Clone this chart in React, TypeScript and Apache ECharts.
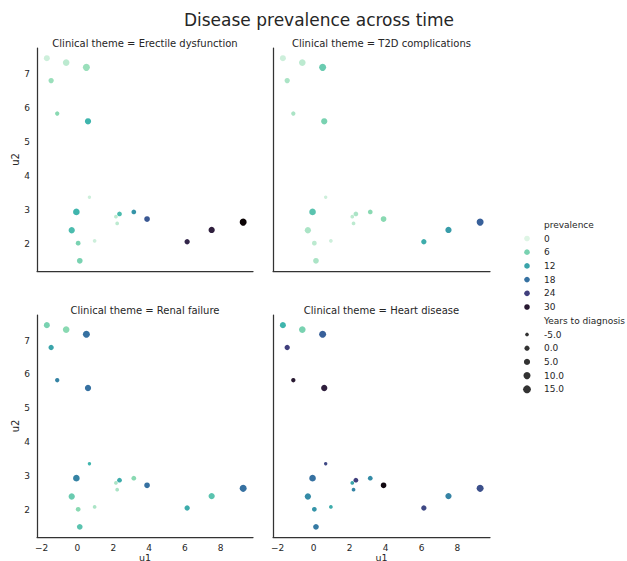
import React, { useEffect, useRef } from "react";
import * as echarts from "echarts";

const themes = ["Erectile dysfunction", "T2D complications", "Renal failure", "Heart disease"];
const u1 = [-1.71, -0.63, 0.5, -1.47, -1.13, 0.59, 0.67, -0.06, 2.35, 2.15, 3.15, 3.89, 2.22, -0.32, 0.04, 0.96, 0.13, 6.13, 7.5, 9.26];
const u2 = [7.46, 7.33, 7.19, 6.8, 5.83, 5.6, 3.36, 2.93, 2.87, 2.79, 2.93, 2.72, 2.59, 2.39, 2.01, 2.08, 1.49, 2.05, 2.4, 2.63];
const years = [4, 7.5, 9.6, 1, -3, 5.7, -6, 7.5, -1.5, -5, -1.5, 2.7, -5, 5.7, -1.5, -5, 2.7, 1, 5.7, 9.6];
const prevED = [1, 2, 4, 4, 5, 10, 1, 10, 9, 2, 14, 21, 2, 9, 6, 1, 6, 28, 29, 34];
const prevT2D = [1, 2, 7, 3, 3, 6, 1, 8, 3, 2, 5, 5, 2, 3, 2, 1, 3, 11, 13, 20];
const prevRenal = [6, 5, 18, 12, 16, 18, 10, 16, 11, 3, 5, 18, 3, 7, 5, 3, 8, 11, 8, 18];
const prevHeart = [10, 6, 20, 24, 30, 29, 23, 18, 24, 12, 15, 33, 16, 15, 14, 11, 17, 23, 16, 22];
const prevalences = [prevED, prevT2D, prevRenal, prevHeart];
const hueTicks = [0, 6, 12, 18, 24, 30];
const sizeTicks = [-5, 0, 5, 10, 15];
const xTicks = [-2, 0, 2, 4, 6, 8];
const yTicks = [2, 3, 4, 5, 6, 7];

const makoR = ["#DEF5E5", "#8BDAB2", "#40B7AD", "#348FA7", "#37659E", "#413D7B", "#2E1E3B", "#0B0405"];
const HUE_MAX = 34;
const TXT = "#262626";
const FONT = "DejaVu Sans";

function sizeOf(y: number) {
  return Math.sqrt(Math.max(6, 26 + 2.4 * y));
}

function hex(c: string) {
  return [parseInt(c.slice(1, 3), 16), parseInt(c.slice(3, 5), 16), parseInt(c.slice(5, 7), 16)];
}
function colorOf(v: number) {
  const t = Math.min(1, Math.max(0, v / HUE_MAX)) * (makoR.length - 1);
  const i = Math.min(makoR.length - 2, Math.floor(t));
  const f = t - i;
  const a = hex(makoR[i]);
  const b = hex(makoR[i + 1]);
  const m = a.map((x, k) => Math.round(x + (b[k] - x) * f));
  return `rgb(${m[0]},${m[1]},${m[2]})`;
}

const grids = [
  { left: 37, top: 48, width: 216, height: 223, outerBoundsMode: "none", containLabel: false },
  { left: 273, top: 48, width: 217, height: 223, outerBoundsMode: "none", containLabel: false },
  { left: 37, top: 315, width: 216, height: 222, outerBoundsMode: "none", containLabel: false },
  { left: 273, top: 315, width: 217, height: 222, outerBoundsMode: "none", containLabel: false },
];

export default function App() {
  const ref = useRef<HTMLDivElement>(null);
  useEffect(() => {
    document.body.style.margin = "0";
    const chart = echarts.init(ref.current!, null, { renderer: "svg" });
    const axisLine = { show: true, onZero: false, lineStyle: { color: "#333333", width: 1.25 } };
    const xAxis = grids.map((_, i) => ({
      type: "value",
      gridIndex: i,
      min: -2.26,
      max: 9.81,
      axisLine,
      axisTick: { show: false },
      splitLine: { show: false },
      axisLabel: {
        show: i >= 2,
        customValues: xTicks,
        color: TXT,
        fontSize: 9,
        fontFamily: FONT,
        margin: 6,
        formatter: (v: number) => (v < 0 ? "\u2212" + Math.abs(v) : String(v)),
      },
      name: i >= 2 ? "u1" : "",
      nameLocation: "middle",
      nameGap: 13,
      nameTextStyle: { color: TXT, fontSize: 9.5, lineHeight: 10, fontFamily: FONT },
    }));
    const yAxis = grids.map((_, i) => ({
      type: "value",
      gridIndex: i,
      min: 1.19,
      max: 7.76,
      axisLine,
      axisTick: { show: false },
      splitLine: { show: false },
      axisLabel: {
        show: i % 2 === 0,
        customValues: yTicks,
        color: TXT,
        fontSize: 9,
        fontFamily: FONT,
        margin: 7,
      },
      name: i % 2 === 0 ? "u2" : "",
      nameLocation: "middle",
      nameGap: 15,
      nameRotate: 90,
      nameTextStyle: { color: TXT, fontSize: 10, fontFamily: FONT },
    }));
    const series = themes.map((t, i) => ({
      type: "scatter",
      name: t,
      xAxisIndex: i,
      yAxisIndex: i,
      data: u1.map((x, k) => [x, u2[k], prevalences[i][k], years[k]]),
      symbolSize: (v: number[]) => sizeOf(v[3]),
      itemStyle: { opacity: 1 },
    }));

    const graphic: any[] = [];
    graphic.push({
      type: "text",
      x: 319,
      y: 20,
      style: { text: "Disease prevalence across time", fill: TXT, fontSize: 17, fontWeight: "normal", fontFamily: FONT, textAlign: "center", textVerticalAlign: "middle" },
    });
    grids.forEach((g, i) => {
      graphic.push({
        type: "text",
        x: g.left + g.width / 2,
        y: g.top - 5,
        style: { text: "Clinical theme = " + themes[i], fill: TXT, fontSize: 10, fontWeight: "normal", fontFamily: FONT, textAlign: "center", textVerticalAlign: "middle" },
      });
    });
    const lx = 527;
    const tx = 544;
    const lt = { fill: TXT, fontSize: 9, fontWeight: "normal", fontFamily: FONT, textVerticalAlign: "middle" };
    graphic.push({ type: "text", x: tx, y: 225, style: { ...lt, text: "prevalence" } });
    hueTicks.forEach((h, k) => {
      const y = 238.5 + k * 13.7;
      graphic.push({ type: "circle", shape: { cx: lx, cy: y, r: 2.8 }, style: { fill: colorOf(h) } });
      graphic.push({ type: "text", x: tx, y, style: { ...lt, text: String(h) } });
    });
    graphic.push({ type: "text", x: tx, y: 320.5, style: { ...lt, text: "Years to diagnosis" } });
    sizeTicks.forEach((s, k) => {
      const y = 334.5 + k * 13.7;
      graphic.push({ type: "circle", shape: { cx: lx, cy: y, r: sizeOf(s) / 2 }, style: { fill: "#333333" } });
      graphic.push({ type: "text", x: tx, y, style: { ...lt, text: s.toFixed(1) } });
    });

    chart.setOption({
      animation: false,
      backgroundColor: "#ffffff",
      textStyle: { fontFamily: FONT },
      grid: grids,
      xAxis,
      yAxis,
      visualMap: {
        type: "continuous",
        show: false,
        min: 0,
        max: HUE_MAX,
        dimension: 2,
        seriesIndex: [0, 1, 2, 3],
        inRange: { color: makoR },
      },
      series,
      graphic,
    });
    return () => chart.dispose();
  }, []);
  return <div ref={ref} style={{ width: 627, height: 561 }} />;
}
